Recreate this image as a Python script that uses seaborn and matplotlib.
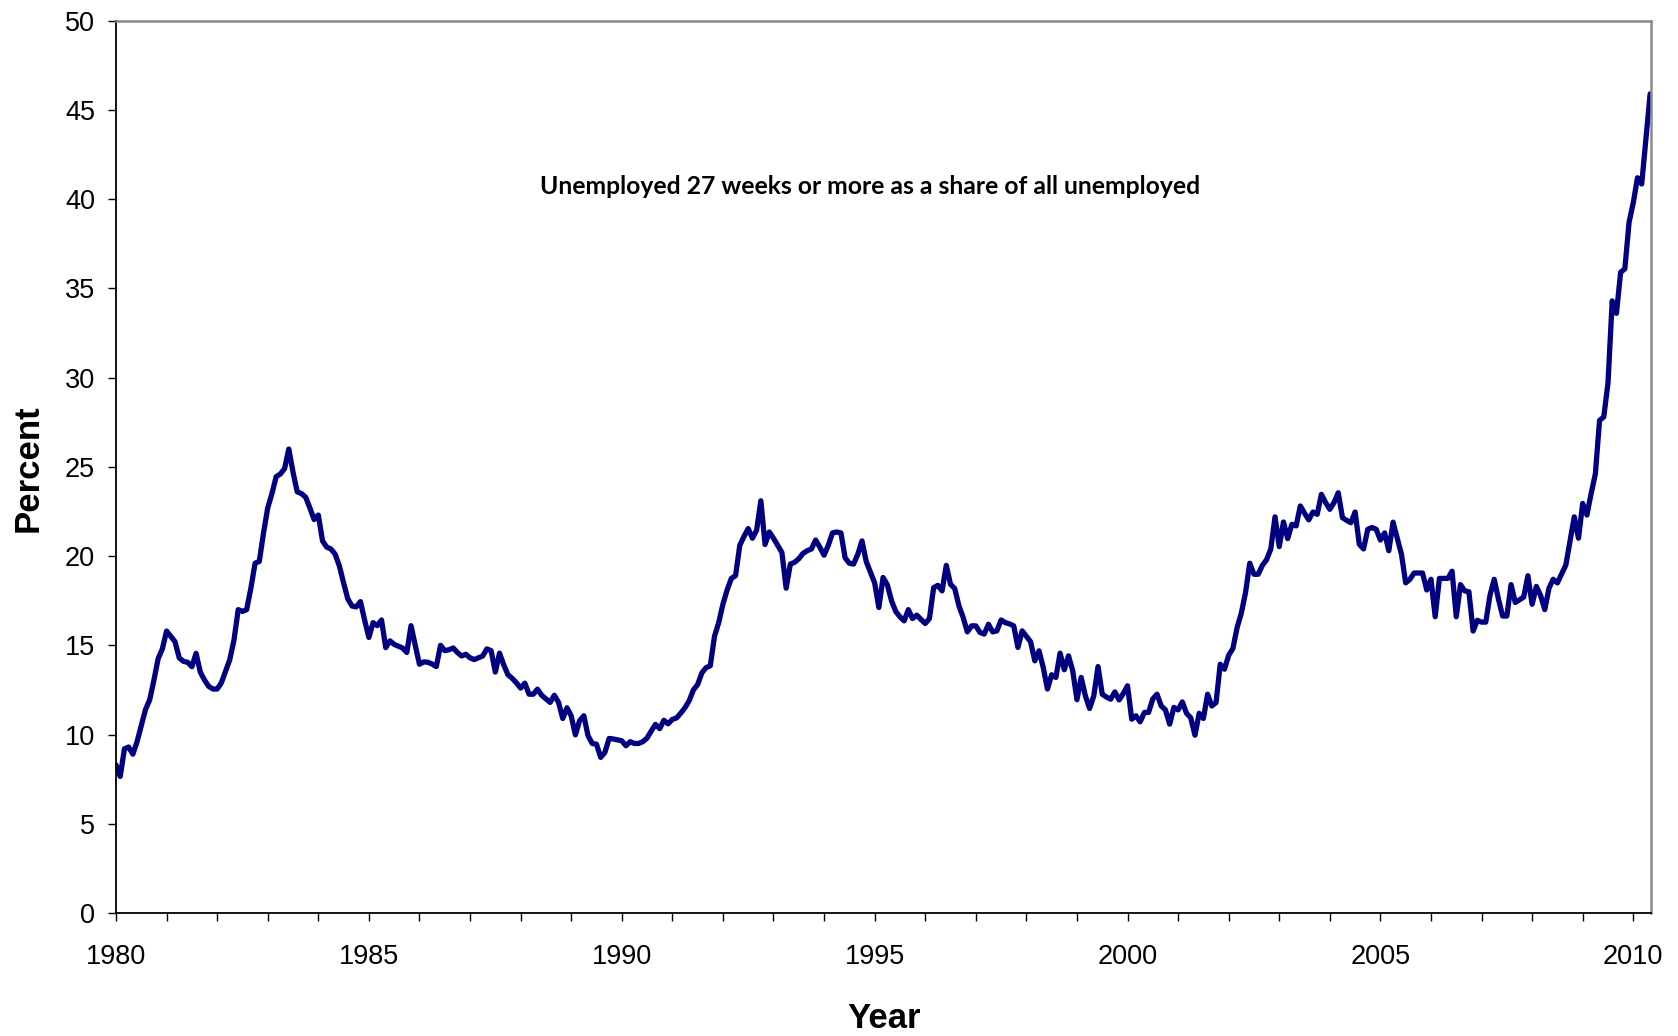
import numpy as np
import pandas as pd
import matplotlib
matplotlib.use("Agg")
import matplotlib.pyplot as plt
import seaborn as sns

# Monthly share (%) of unemployed who have been jobless 27 weeks or more, Jan 1980 - May 2010
start_year = 1980
pct_1980s = [
    8.3, 7.65, 9.2, 9.3, 8.9, 9.6, 10.5, 11.4, 11.95, 13.05, 14.25, 14.8,          # 1980
    15.8, 15.5, 15.2, 14.3, 14.1, 14.05, 13.8, 14.55, 13.5, 13.05, 12.7, 12.55,     # 1981
    12.55, 12.9, 13.55, 14.2, 15.3, 17.0, 16.9, 17.0, 18.2, 19.6, 19.7, 21.3,      # 1982
    22.7, 23.5, 24.45, 24.6, 24.9, 26.0, 24.7, 23.6, 23.5, 23.3, 22.7, 22.05,      # 1983
    22.3, 20.85, 20.5, 20.4, 20.1, 19.45, 18.5, 17.6, 17.2, 17.15, 17.45, 16.4,    # 1984
    15.44, 16.27, 16.1, 16.42, 14.87, 15.25, 15.05, 14.95, 14.85, 14.6, 16.1, 15.0,  # 1985
    13.94, 14.07, 14.05, 13.95, 13.81, 15.0, 14.7, 14.75, 14.85, 14.6, 14.4, 14.5,   # 1986
    14.3, 14.2, 14.3, 14.4, 14.8, 14.7, 13.5, 14.56, 13.9, 13.35, 13.15, 12.9,       # 1987
    12.6, 12.88, 12.26, 12.26, 12.54, 12.2, 12.0, 11.8, 12.2, 11.8, 10.9, 11.5,      # 1988
    11.05, 9.98, 10.78, 11.05, 9.93, 9.5, 9.46, 8.72, 9.0, 9.78, 9.75, 9.7,          # 1989
]
pct_1990s = [
    9.65, 9.37, 9.6, 9.5, 9.5, 9.6, 9.8, 10.2, 10.57, 10.33, 10.8, 10.6,             # 1990
    10.85, 10.93, 11.2, 11.5, 11.9, 12.5, 12.8, 13.45, 13.75, 13.85, 15.5, 16.27,    # 1991
    17.3, 18.1, 18.75, 18.9, 20.6, 21.1, 21.54, 21.0, 21.45, 23.1, 20.65, 21.35,     # 1992
    21.0, 20.6, 20.2, 18.2, 19.55, 19.65, 19.85, 20.15, 20.3, 20.4, 20.9, 20.5,      # 1993
    20.05, 20.6, 21.3, 21.35, 21.3, 19.9, 19.6, 19.55, 20.1, 20.85, 19.7, 19.1,      # 1994
    18.5, 17.12, 18.8, 18.4, 17.5, 16.9, 16.6, 16.37, 17.0, 16.5, 16.69, 16.45,      # 1995
    16.22, 16.5, 18.23, 18.36, 18.05, 19.48, 18.42, 18.18, 17.21, 16.56, 15.75, 16.09,  # 1996
    16.09, 15.72, 15.63, 16.18, 15.75, 15.81, 16.42, 16.27, 16.2, 16.09, 14.88, 15.81,  # 1997
    15.5, 15.2, 14.13, 14.69, 13.76, 12.55, 13.35, 13.2, 14.56, 13.63, 14.41, 13.57,    # 1998
    11.95, 13.2, 12.17, 11.46, 12.17, 13.81, 12.26, 12.1, 11.98, 12.39, 11.94, 12.3,    # 1999
]
pct_2000s = [
    12.73, 10.86, 11.05, 10.71, 11.24, 11.24, 12.0, 12.26, 11.6, 11.38, 10.58, 11.52,   # 2000
    11.38, 11.83, 11.19, 10.94, 9.96, 11.19, 10.9, 12.26, 11.6, 11.79, 13.94, 13.66,    # 2001
    14.44, 14.82, 15.99, 16.8, 17.95, 19.6, 18.98, 18.98, 19.48, 19.8, 20.4, 22.2,      # 2002
    20.53, 21.91, 20.98, 21.78, 21.69, 22.81, 22.4, 22.03, 22.47, 22.34, 23.46, 23.0,   # 2003
    22.62, 23.0, 23.55, 22.15, 22.0, 21.87, 22.47, 20.66, 20.4, 21.5, 21.6, 21.5,       # 2004
    20.9, 21.3, 20.3, 21.9, 21.0, 20.1, 18.5, 18.7, 19.05, 19.05, 19.05, 18.1,          # 2005
    18.7, 16.6, 18.75, 18.75, 18.75, 19.15, 16.6, 18.4, 18.05, 18.0, 15.8, 16.4,        # 2006
    16.3, 16.3, 17.8, 18.7, 17.6, 16.64, 16.64, 18.4, 17.4, 17.55, 17.7, 18.9,          # 2007
    17.3, 18.3, 17.8, 17.0, 18.2, 18.7, 18.5, 19.0, 19.5, 20.85, 22.2, 21.0,            # 2008
    22.95, 22.3, 23.5, 24.6, 27.6, 27.8, 29.7, 34.3, 33.6, 35.9, 36.1, 38.7,            # 2009
]
pct_2010 = [39.8, 41.2, 40.85, 43.4, 45.9]

y_ticks = list(range(0, 51, 5))
x_tick_years = list(range(1980, 2011))
x_label_years = [1980, 1985, 1990, 1995, 2000, 2005, 2010]

title_text = "Unemployed 27 weeks or more as a share of all unemployed"
x_title = "Year"
y_title = "Percent"

values = pct_1980s + pct_1990s + pct_2000s + pct_2010
df = pd.DataFrame({
    "year": start_year + np.arange(len(values)) / 12.0,
    "pct": values,
})

sns.set_theme(style="white")
plt.rcParams['font.family'] = ['Liberation Sans', 'DejaVu Sans']

W, H = 1678, 1036
fig = plt.figure(figsize=(W / 100, H / 100), dpi=100)
left, right, top, bottom = 116, 1651.4, 20.7, 913
ax = fig.add_axes([left / W, 1 - bottom / H, (right - left) / W, (bottom - top) / H])

sns.lineplot(data=df, x="year", y="pct", ax=ax, color="#000080", linewidth=3.8,
             solid_joinstyle="round", solid_capstyle="round")

ax.set_xlim(1980, 1980 + 364.3 / 12)
ax.set_ylim(0, 50)
ax.set_yticks(y_ticks)
ax.set_yticklabels([str(v) for v in y_ticks])
ax.set_xticks(x_tick_years)
ax.set_xticklabels([str(y) if y in x_label_years else "" for y in x_tick_years])
ax.set_xlabel("")
ax.set_ylabel("")
ax.grid(False)

ax.tick_params(axis="both", which="major", direction="out", bottom=True, left=True,
               length=6, width=1.0, color="black", labelcolor="black", labelsize=19.5)
ax.tick_params(axis="x", pad=16.5)
ax.tick_params(axis="y", pad=9)

for s in ["left", "bottom"]:
    ax.spines[s].set_color("black")
    ax.spines[s].set_linewidth(1.3)
for s in ["top", "right"]:
    ax.spines[s].set_color("#8a8a8a")
    ax.spines[s].set_linewidth(1.8)

fig.text(28 / W, 1 - 468 / H, y_title, rotation=90, ha="center", va="center",
         fontsize=25, fontweight="bold", color="black")
fig.text(884 / W, 1 - 1019 / H, x_title, ha="center", va="center",
         fontsize=25, fontweight="bold", color="black")

t = fig.text(870 / W, 1 - 186 / H, title_text, ha="center", va="center",
             fontsize=15, fontweight="bold", color="black", family=["Lato", "DejaVu Sans"])
renderer = fig.canvas.get_renderer()
wpx = t.get_window_extent(renderer=renderer).width
t.set_fontsize(15 * 665 / wpx)

fig.savefig("out.png", dpi=100, facecolor="white")
